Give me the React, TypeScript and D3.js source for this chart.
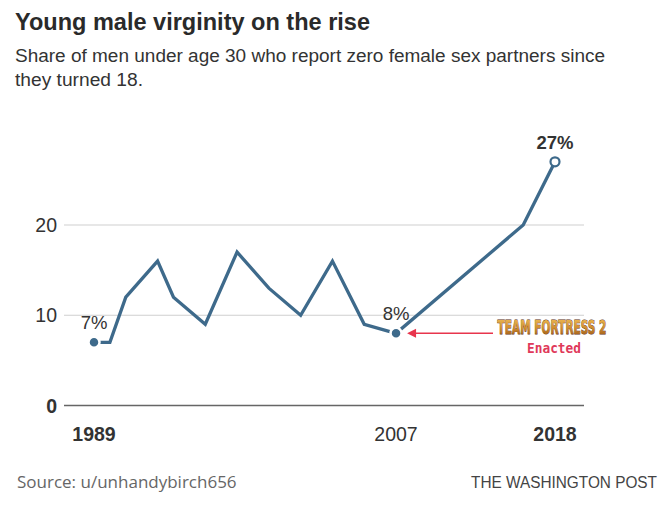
import React from "react";
import * as d3 from "d3";

const years = [1989, 1990, 1991, 1993, 1994, 1996, 1998, 2000, 2002, 2004, 2006, 2008, 2016, 2018];
const shares = [7, 7, 12, 16, 12, 9, 17, 13, 10, 16, 9, 8, 20, 27];
const yTicks = [0, 10, 20];
const xTickValues = [1989, 2008, 2018];
const xTickLabels = ["1989", "2007", "2018"];
const xTickBold = [true, false, true];
const callouts = [
  { year: 1989, value: 7, label: "7%", bold: false, open: false },
  { year: 2008, value: 8, label: "8%", bold: false, open: false },
  { year: 2018, value: 27, label: "27%", bold: true, open: true },
];

const W = 671;
const H = 506;
const LINE = "#3e6a8b";
const FONT = "'Liberation Sans', Arial, sans-serif";

export default function App() {
  const x = d3.scaleLinear().domain([1989, 2018]).range([94, 555]);
  const y = d3.scaleLinear().domain([0, 20]).range([405.5, 225]);
  const pts = years.map((yr, i) => [yr, shares[i]] as [number, number]);
  const line = d3
    .line<[number, number]>()
    .x((d) => x(d[0]))
    .y((d) => y(d[1]));

  const ay = y(8);
  const ax = x(2008);

  return (
    <svg
      width={W}
      height={H}
      style={{ position: "absolute", left: 0, top: 0, background: "#fff" }}
      fontFamily={FONT}
    >
      <defs>
        <linearGradient id="tf2" x1="0" y1="0" x2="0" y2="1">
          <stop offset="0%" stopColor="#f5c55c" />
          <stop offset="55%" stopColor="#cf8b2c" />
          <stop offset="100%" stopColor="#8a4a14" />
        </linearGradient>
      </defs>
      <rect width={W} height={H} fill="#fff" />
      <text
        x={15}
        y={30}
        fontSize={23.5}
        fontWeight="bold"
        fill="#2a2a2a"
        textLength={355}
        lengthAdjust="spacingAndGlyphs"
      >
        Young male virginity on the rise
      </text>
      <text x={15} y={62} fontSize={17.5} fill="#333" textLength={590} lengthAdjust="spacingAndGlyphs">
        Share of men under age 30 who report zero female sex partners since
      </text>
      <text x={15} y={86} fontSize={17.5} fill="#333" textLength={128} lengthAdjust="spacingAndGlyphs">
        they turned 18.
      </text>

      {yTicks.map((t) => (
        <g key={t}>
          <line
            x1={64}
            x2={584}
            y1={y(t)}
            y2={y(t)}
            stroke={t === 0 ? "#666" : "#cfcfcf"}
            strokeWidth={t === 0 ? 1.5 : 1}
          />
          <text
            x={57}
            y={y(t) + 7}
            textAnchor="end"
            fontSize={19.5}
            fontWeight={t === 0 ? "bold" : "normal"}
            fill="#333"
          >
            {t}
          </text>
        </g>
      ))}

      {xTickValues.map((v, i) => (
        <text
          key={v}
          x={x(v)}
          y={441}
          textAnchor="middle"
          fontSize={19.5}
          fontWeight={xTickBold[i] ? "bold" : "normal"}
          fill="#333"
        >
          {xTickLabels[i]}
        </text>
      ))}

      <path d={line(pts) || ""} fill="none" stroke={LINE} strokeWidth={3.3} strokeLinejoin="miter" />

      {callouts.map((c) => (
        <g key={c.label}>
          <circle
            cx={x(c.year)}
            cy={y(c.value)}
            r={c.open ? 4.5 : 5.5}
            fill={c.open ? "#fff" : LINE}
            stroke={c.open ? LINE : "#fff"}
            strokeWidth={c.open ? 2.2 : 2.5}
          />
          <text
            x={x(c.year)}
            y={y(c.value) - 13}
            textAnchor="middle"
            fontSize={18.5}
            fontWeight={c.bold ? "bold" : "normal"}
            fill="#333"
          >
            {c.label}
          </text>
        </g>
      ))}

      {/* annotation arrow */}
      <line x1={ax + 19} x2={493} y1={ay} y2={ay} stroke="#e8354d" strokeWidth={1.5} />
      <path
        d={`M${ax + 11},${ay} L${ax + 20},${ay - 4.5} L${ax + 20},${ay + 4.5} Z`}
        fill="#e8354d"
      />
      <text
        transform="translate(552,334) scale(0.84,1.45)"
        textAnchor="middle"
        fontSize={14}
        fontWeight="bold"
        fill="url(#tf2)"
        stroke="#5a2e10"
        strokeWidth={0.6}
        paintOrder="stroke"
        fontFamily="'DejaVu Sans Condensed', 'Liberation Sans Narrow', sans-serif"
      >
        TEAM FORTRESS 2
      </text>
      <text
        x={554}
        y={353}
        textAnchor="middle"
        fontSize={14}
        fontWeight="bold"
        fill="#e0395a"
        textLength={54}
        lengthAdjust="spacingAndGlyphs"
        fontFamily="'DejaVu Sans Mono', monospace"
      >
        Enacted
      </text>

      <text x={17} y={488} fontSize={17} fill="#666" fontFamily="'Open Sans', 'Noto Sans', sans-serif">
        Source: u/unhandybirch656
      </text>
      <text
        x={657}
        y={488}
        textAnchor="end"
        fontSize={16}
        fill="#444"
        textLength={186}
        lengthAdjust="spacingAndGlyphs"
      >
        THE WASHINGTON POST
      </text>
    </svg>
  );
}
